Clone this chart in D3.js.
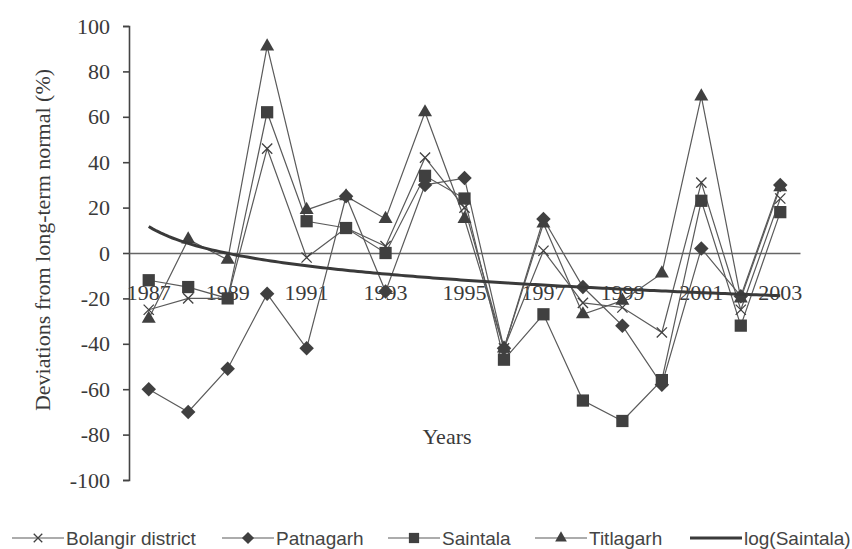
<html>
<head>
  <meta charset="utf-8">
  <title>Rainfall deviations</title>
  <script src="https://d3js.org/d3.v7.min.js"></script>
  <style>
    body {
      margin: 0;
      padding: 0;
      background: #fff;
    }
    .tick text, .axis-title {
      font-family: "Liberation Serif", "Times New Roman", serif;
      font-size: 22px;
      fill: #3a3a3a;
    }
    .legend text {
      font-family: "Liberation Sans", Arial, sans-serif;
      font-size: 19px;
      fill: #444;
    }
  </style>
</head>
<body>
<svg id="chart" width="852" height="549"></svg>
<script>

  // values (deviation from long-term normal, %)
  var years = [1987, 1988, 1989, 1990, 1991, 1992, 1993, 1994, 1995, 1996,
               1997, 1998, 1999, 2000, 2001, 2002, 2003];
  var bolangir  = [-25, -20, -20, 46, -2, 11, 3, 42, 20, -42, 1, -22, -24, -35, 31, -25, 24];
  var patnagarh = [-60, -70, -51, -18, -42, 25, -17, 30, 33, -42, 15, -15, -32, -58, 2, -19, 30];
  var saintala  = [-12, -15, -20, 62, 14, 11, 0, 34, 24, -47, -27, -65, -74, -56, 23, -32, 18];
  var titlagarh = [-29, 6, -3, 91, 19, 25, 15, 62, 15, -42, 13, -27, -21, -9, 69, -20, 29];
  var yTicks = [100, 80, 60, 40, 20, 0, -20, -40, -60, -80, -100];
  var xLabels = [1987, 1989, 1991, 1993, 1995, 1997, 1999, 2001, 2003];
  var seriesNames = ["Bolangir district", "Patnagarh", "Saintala", "Titlagarh", "log(Saintala)"];

  var svg = d3.select("#chart");

  var x = d3.scaleBand()
      .domain(years)
      .range([129, 800]);

  var y = d3.scaleLinear()
      .domain([-100, 100])
      .range([480, 26]);

  var cx = function(yr) { return x(yr) + x.bandwidth() / 2; };

  // y axis (plain hyphen for negatives, like the original)
  var yAxis = d3.axisLeft(y)
      .tickValues(yTicks)
      .tickSize(6)
      .tickPadding(13)
      .tickFormat(function(d) { return String(d); });

  var gy = svg.append("g")
      .attr("transform", "translate(129,0)")
      .call(yAxis);
  gy.select(".domain").attr("stroke", "#444").attr("stroke-width", 1.6);
  gy.selectAll(".tick line").attr("stroke", "#444").attr("stroke-width", 1.6);
  gy.selectAll(".tick text").attr("font-family", null).attr("font-size", null);

  // x axis (sits on the zero line, labels pushed below)
  var xAxis = d3.axisBottom(x)
      .tickValues(xLabels)
      .tickSizeInner(0)
      .tickSizeOuter(0)
      .tickPadding(31);

  var gx = svg.append("g")
      .attr("transform", "translate(0," + y(0) + ")")
      .call(xAxis);
  gx.select(".domain").attr("stroke", "#666").attr("stroke-width", 1.3);
  gx.selectAll(".tick text").attr("font-family", null).attr("font-size", null);

  // axis titles
  svg.append("text")
      .attr("class", "axis-title")
      .attr("x", 447)
      .attr("y", 444)
      .attr("text-anchor", "middle")
      .text("Years");

  svg.append("text")
      .attr("class", "axis-title")
      .attr("transform", "translate(50,240) rotate(-90)")
      .attr("text-anchor", "middle")
      .text("Deviations from long-term normal (%)");

  // symbols
  var markColor = "#404040";
  var lineColor = "#5a5a5a";

  function drawMarker(g, kind, px, py, scale) {
    scale = scale || 1;
    if (kind === "x") {
      g.append("path")
          .attr("d", d3.symbol().type(d3.symbolX).size(70 * scale)())
          .attr("transform", "translate(" + px + "," + py + ")")
          .attr("fill", "none")
          .attr("stroke", markColor)
          .attr("stroke-width", 1.3);
    } else if (kind === "diamond") {
      g.append("path")
          .attr("d", d3.symbol().type(d3.symbolSquare).size(105 * scale)())
          .attr("transform", "translate(" + px + "," + py + ") rotate(45)")
          .attr("fill", markColor);
    } else if (kind === "square") {
      g.append("path")
          .attr("d", d3.symbol().type(d3.symbolSquare).size(150 * scale)())
          .attr("transform", "translate(" + px + "," + py + ")")
          .attr("fill", markColor);
    } else if (kind === "triangle") {
      g.append("path")
          .attr("d", d3.symbol().type(d3.symbolTriangle).size(85 * scale)())
          .attr("transform", "translate(" + px + "," + py + ")")
          .attr("fill", markColor);
    }
  }

  var series = [
    { values: bolangir,  marker: "x" },
    { values: patnagarh, marker: "diamond" },
    { values: saintala,  marker: "square" },
    { values: titlagarh, marker: "triangle" }
  ];

  var line = d3.line()
      .x(function(d, i) { return cx(years[i]); })
      .y(function(d) { return y(d); });

  var plot = svg.append("g");

  series.forEach(function(s) {
    plot.append("path")
        .datum(s.values)
        .attr("d", line)
        .attr("fill", "none")
        .attr("stroke", lineColor)
        .attr("stroke-width", 1.2);
  });

  series.forEach(function(s) {
    var g = plot.append("g");
    s.values.forEach(function(v, i) {
      drawMarker(g, s.marker, cx(years[i]), y(v));
    });
  });

  // logarithmic trend of Saintala: least squares fit y = a ln(t) + b, t = 1..n
  var lnT = saintala.map(function(d, i) { return Math.log(i + 1); });
  var mx = d3.mean(lnT), my = d3.mean(saintala);
  var sxy = d3.sum(saintala, function(d, i) { return (lnT[i] - mx) * (d - my); });
  var sxx = d3.sum(lnT, function(d) { return (d - mx) * (d - mx); });
  var slope = sxy / sxx, intercept = my - slope * mx;

  var tScale = d3.scaleLinear()
      .domain([1, years.length])
      .range([cx(years[0]), cx(years[years.length - 1])]);

  var trendPts = d3.range(1, years.length + 0.001, 0.1).map(function(t) {
    return [tScale(t), y(slope * Math.log(t) + intercept)];
  });

  plot.append("path")
      .attr("d", d3.line()(trendPts))
      .attr("fill", "none")
      .attr("stroke", "#3a3a3a")
      .attr("stroke-width", 3);

  // legend
  var legendX = [12, 222, 388, 535, 690];
  var legendKinds = ["x", "diamond", "square", "triangle", "trend"];
  var legend = svg.append("g").attr("class", "legend");
  var ly = 538;

  seriesNames.forEach(function(name, i) {
    var x0 = legendX[i];
    var len = 52;
    var g = legend.append("g");
    g.append("line")
        .attr("x1", x0).attr("x2", x0 + len)
        .attr("y1", ly).attr("y2", ly)
        .attr("stroke", i === 4 ? "#3a3a3a" : lineColor)
        .attr("stroke-width", i === 4 ? 3 : 1.2);
    drawMarker(g, legendKinds[i], x0 + len / 2, ly, 0.7);
    g.append("text")
        .attr("x", x0 + len + 2)
        .attr("y", ly)
        .attr("dy", "0.35em")
        .text(name);
  });

</script>
</body>
</html>
